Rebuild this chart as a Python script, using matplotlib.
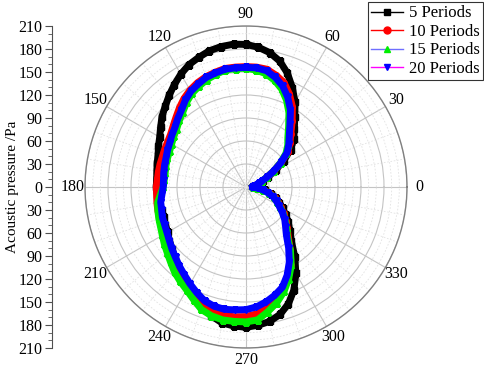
import numpy as np
import matplotlib
matplotlib.use("Agg")
import matplotlib.pyplot as plt
from matplotlib.lines import Line2D

plt.rcParams['font.family'] = ['Liberation Serif', 'DejaVu Serif']

angles_deg = np.arange(0, 361, 5)

p5 = [9, 11, 15, 19, 24, 32, 45, 60, 76, 88, 98, 111, 128, 143, 158, 170, 178, 183, 186,
      187, 186, 184, 180, 176, 170, 163, 156, 149, 143, 136, 130, 126, 122, 120, 118, 117,
      117, 116, 115, 114, 114, 116, 118, 122, 126, 131, 137, 143, 150, 158, 166, 174, 180,
      182, 183, 181, 178, 172, 162, 148, 130, 111, 92, 81, 72, 63, 55, 48, 42, 34, 25, 16, 9]
p10 = [9, 11, 14, 18, 22, 30, 42, 56, 71, 81, 91, 105, 121, 134, 145, 151, 156, 157, 157,
       157, 157, 155, 153, 150, 146, 141, 135, 129, 124, 120, 118, 117, 116, 116, 116, 116,
       117, 117, 118, 119, 120, 122, 124, 128, 133, 137, 142, 146, 150, 157, 165, 168, 170,
       170, 169, 166, 160, 152, 142, 130, 117, 101, 86, 76, 68, 60, 52, 46, 40, 32, 24, 16, 9]
p15 = [9, 11, 14, 18, 22, 30, 42, 55, 68, 77, 85, 97, 112, 125, 136, 144, 150, 153, 155,
       155, 155, 152, 149, 145, 141, 135, 128, 123, 118, 115, 112, 110, 109, 108, 107, 107,
       108, 112, 117, 119, 121, 123, 126, 130, 134, 139, 145, 150, 155, 162, 170, 174, 176,
       176, 176, 174, 165, 156, 145, 132, 118, 101, 84, 75, 67, 59, 51, 45, 39, 31, 23, 15, 9]
p20 = [9, 11, 14, 18, 22, 30, 42, 56, 70, 79, 88, 100, 116, 129, 140, 148, 154, 156, 156,
       156, 156, 154, 152, 148, 144, 138, 131, 126, 121, 118, 115, 113, 111, 110, 109, 108,
       108, 110, 113, 114, 116, 117, 119, 122, 126, 130, 135, 140, 146, 152, 158, 161, 162,
       161, 160, 157, 152, 146, 139, 127, 113, 97, 82, 73, 66, 58, 50, 44, 38, 30, 23, 15, 9]

labels = ['5 Periods', '10 Periods', '15 Periods', '20 Periods']
series = [p5, p10, p15, p20]
marker_colors = ['#000000', '#ff0000', '#00ee00', '#0000ff']
line_colors = ['#000000', '#ff0000', '#6f6fff', '#ff00ff']
markers = ['s', 'o', '^', 'v']

W, H = 484, 371
fig = plt.figure(figsize=(W / 100, H / 100), dpi=100)

cx, cy, R = 246, 187, 161
ax = fig.add_axes([(cx - R) / W, (H - cy - R) / H, 2 * R / W, 2 * R / H], projection='polar')
ax.set_ylim(0, 210)
ax.set_yticks(np.arange(0, 211, 30))
ax.set_yticks(np.arange(0, 211, 10), minor=True)
ax.set_yticklabels([])
ax.set_xticks(np.deg2rad(np.arange(0, 360, 30)))
ax.set_xticklabels([str(a) for a in range(0, 360, 30)], fontsize=11.5)
ax.set_xticks(np.deg2rad(np.arange(0, 360, 10)), minor=True)
ax.grid(True, which='major', color='#c4c4c4', lw=0.8, ls='-')
ax.grid(True, which='minor', color='#e2e2e2', lw=0.6, ls=(0, (2, 2)))
ax.spines['polar'].set_color('#808080')
ax.spines['polar'].set_linewidth(1.0)
ax.tick_params(axis='x', which='major', direction='out', length=4, color='#808080', pad=-2)
ax.tick_params(axis='x', which='minor', direction='in', length=4, color='#808080')
ax.tick_params(axis='y', which='both', length=0)

th = np.deg2rad(angles_deg)
handles = []
for vals, mc, lc, mk, lab in zip(series, marker_colors, line_colors, markers, labels):
    ax.plot(th, vals, color=mc, lw=5, solid_joinstyle='round', zorder=3)
    ax.plot(th, vals, ls='none', marker=mk, ms=4, mfc=mc, mec=mc, zorder=3)
    handles.append(Line2D([], [], color=lc, lw=1, marker=mk, ms=5, mfc=mc, mec=mc, label=lab))

leg = fig.legend(handles=handles, loc='upper right', bbox_to_anchor=(483 / W, 1 - 2 / H),
                 fontsize=12, frameon=True, fancybox=False, edgecolor='black',
                 handlelength=1.9, borderpad=0.2, labelspacing=0.15, handletextpad=0.35,
                 borderaxespad=0)
leg.get_frame().set_linewidth(0.8)

lax = fig.add_axes([52 / W, (H - cy - R) / H, 0.0001, 2 * R / H])
lax.set_ylim(-210, 210)
yt = np.arange(-210, 211, 30)
lax.set_yticks(yt)
lax.set_yticklabels([str(abs(v)) for v in yt], fontsize=11.5)
lax.set_yticks(np.arange(-210, 211, 10), minor=True)
lax.set_xticks([])
for s in ['top', 'right', 'bottom']:
    lax.spines[s].set_visible(False)
lax.spines['left'].set_color('#505050')
lax.tick_params(axis='y', which='major', length=5, color='#505050', pad=2)
lax.tick_params(axis='y', which='minor', length=3, color='#505050')
lax.patch.set_visible(False)
fig.text(13 / W, 1 - 187 / H, 'Acoustic pressure /Pa', rotation=90, fontsize=11,
         ha='center', va='center')

fig.savefig('out.png', dpi=100)
